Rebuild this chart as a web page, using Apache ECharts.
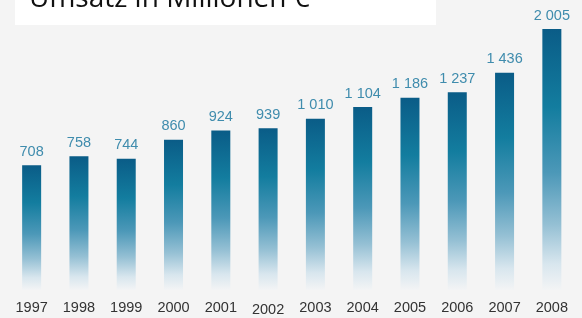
<!DOCTYPE html>
<html>
<head>
<meta charset="utf-8">
<script src="https://cdn.jsdelivr.net/npm/echarts@6/dist/echarts.min.js"></script>
<style>
html,body{margin:0;padding:0;background:#f4f4f4;}
#c{width:582px;height:318px;}
</style>
</head>
<body>
<div id="c"></div>
<script>
const years = ['1997','1998','1999','2000','2001','2002','2003','2004','2005','2006','2007','2008'];
const revenue = [708, 758, 744, 860, 924, 939, 1010, 1104, 1186, 1237, 1436, 2005];
const titleText = 'Umsatz in Millionen €';

const chart = echarts.init(document.getElementById('c'));
chart.setOption({
  backgroundColor: '#f4f4f4',
  animation: false,
  graphic: [
    { type: 'rect', shape: { x: 15, y: 0, width: 421, height: 25 }, style: { fill: '#ffffff' }, z: 10 },
    { type: 'text', x: 29, y: 13, z: 11,
      style: { text: titleText, font: '28px "Open Sans", "Liberation Sans", sans-serif', fill: '#111', verticalAlign: 'bottom' } }
  ],
  grid: { left: 8, right: 6.5, top: 29, bottom: 28 },
  xAxis: {
    type: 'category',
    data: years,
    axisLine: { show: false },
    axisTick: { show: false },
    axisLabel: {
      interval: 0,
      margin: 10,
      fontSize: 14.5,
      color: '#333333',
      fontFamily: '"Liberation Sans", Arial, sans-serif',
      formatter: function(v){ return v === '2002' ? '{d|' + v + '}' : '{n|' + v + '}'; },
      rich: {
        n: { fontSize: 14.5, color: '#333333', fontFamily: '"Liberation Sans", Arial, sans-serif' },
        d: { fontSize: 14.5, color: '#333333', padding: [2,0,0,0], fontFamily: '"Liberation Sans", Arial, sans-serif' }
      }
    }
  },
  yAxis: {
    type: 'log',
    min: 273,
    max: 2005,
    show: false,
    splitLine: { show: false }
  },
  series: [{
    type: 'bar',
    data: revenue,
    barWidth: 19,
    itemStyle: {
      color: new echarts.graphic.LinearGradient(0, 0, 0, 1, [
        { offset: 0, color: '#0a5c87' },
        { offset: 0.3, color: '#137d9f' },
        { offset: 0.55, color: '#4c98b8' },
        { offset: 0.75, color: '#95c0d4' },
        { offset: 0.9, color: '#d8e6ee' },
        { offset: 1, color: '#f3f4f5' }
      ])
    },
    label: {
      show: true,
      position: 'top',
      distance: 6,
      fontSize: 14.5,
      color: '#3f8cad',
      fontFamily: '"Liberation Sans", Arial, sans-serif',
      formatter: function(p){ return String(p.value).replace(/\B(?=(\d{3})+(?!\d))/g, ' '); }
    }
  }]
});
</script>
</body>
</html>
